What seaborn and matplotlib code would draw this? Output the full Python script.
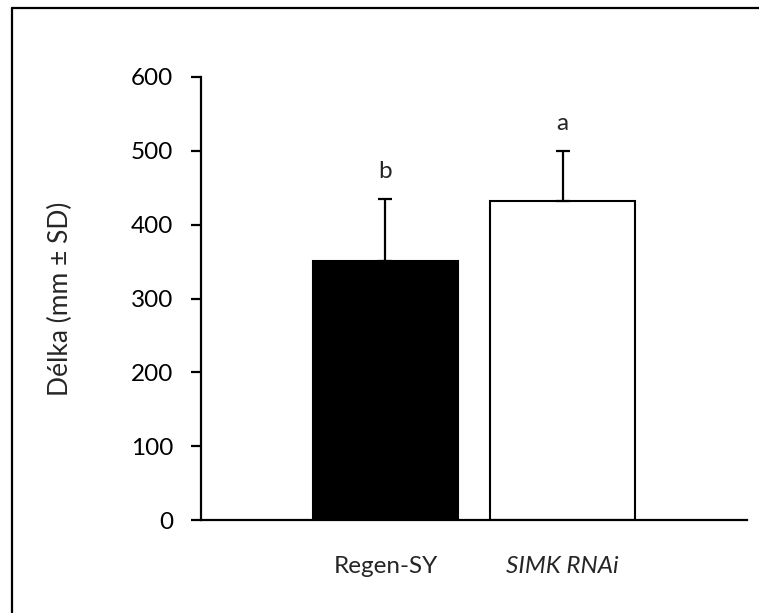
import matplotlib
matplotlib.use("Agg")
import matplotlib.pyplot as plt
import seaborn as sns
import pandas as pd
from matplotlib.lines import Line2D

# data
groups = ["Regen-SY", "SIMK RNAi"]
mean_len = [351, 432]
sd_len = [84, 68]
letters = ["b", "a"]
bar_colors = ["black", "white"]

df = pd.DataFrame({"group": groups, "length": mean_len})

sns.set_style("white")
plt.rcParams["font.family"] = ["Lato", "DejaVu Sans"]

fig = plt.figure(figsize=(7.59, 6.13), dpi=100)
ax = fig.add_axes([0.2648, 0.1517, 0.7194, 0.7227])

sns.barplot(data=df, x="group", y="length", hue="group", palette=bar_colors,
            edgecolor="black", linewidth=1.5, width=0.82, legend=False, ax=ax)

# upper error bars only (mean + SD)
xpos = list(range(len(groups)))
ax.errorbar(xpos, mean_len, yerr=[[0] * len(sd_len), sd_len], fmt="none",
            ecolor="black", elinewidth=1.6, capsize=4.7, capthick=1.6)

# significance letters
for x, m, s, t in zip(xpos, mean_len, sd_len, letters):
    ax.annotate(t, (x, m + s), xytext=(0, 12), textcoords="offset points",
                ha="center", va="bottom", fontsize=17.5)

ax.set_ylim(0, 600)
ax.set_xlim(-1.042, 2.042)
ax.set_yticks(range(0, 601, 100))
ax.set_xlabel("")
ax.set_ylabel("Délka (mm ± SD)", fontsize=19)
ax.yaxis.set_label_coords(-0.234, 0.5)

for side in ["top", "right"]:
    ax.spines[side].set_visible(False)
for side in ["left", "bottom"]:
    ax.spines[side].set_linewidth(1.6)
    ax.spines[side].set_color("black")

ax.tick_params(axis="y", left=True, length=7.2, width=1.6, pad=13,
               labelsize=17.5, colors="black")
ax.tick_params(axis="x", bottom=False, length=0, pad=26, labelsize=17.5)
ax.get_xticklabels()[1].set_style("italic")

# frame around the chart (only top and left edges visible in the crop)
fig.add_artist(Line2D([12 / 759, 1.0], [1 - 8 / 613, 1 - 8 / 613],
                      transform=fig.transFigure, color="black", lw=1.6))
fig.add_artist(Line2D([12 / 759, 12 / 759], [0.0, 1 - 8 / 613],
                      transform=fig.transFigure, color="black", lw=1.6))

fig.savefig("out.png", dpi=100)
